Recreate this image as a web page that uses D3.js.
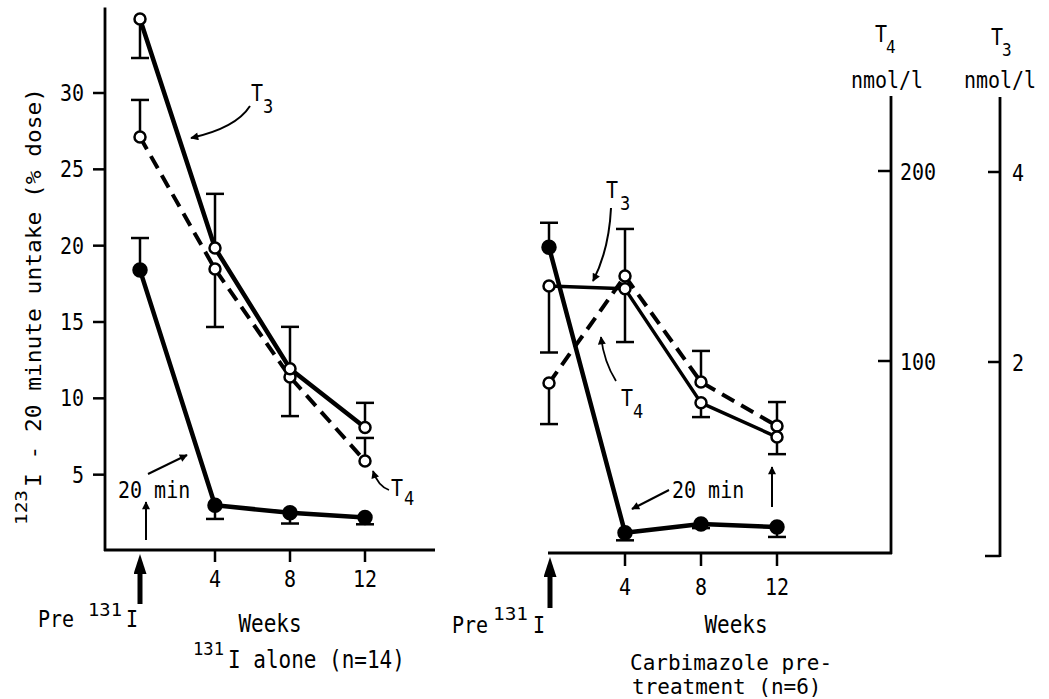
<!DOCTYPE html>
<html>
<head>
<meta charset="utf-8">
<script src="https://cdn.jsdelivr.net/npm/d3@7"></script>
<style>
  html, body { margin: 0; padding: 0; background: #fff; }
  svg { display: block; font-family: "DejaVu Sans Mono", "Liberation Mono", monospace; }
</style>
</head>
<body>
<svg id="chart" width="1049" height="699"></svg>
<script>
// ---------------- DATA ----------------
const weeks = [0, 4, 8, 12];
const weekTicks = [4, 8, 12];
const pctTicks = [5, 10, 15, 20, 25, 30];
const t4Ticks = [100, 200];
const t3Ticks = [2, 4];

// 131I alone (n=14)
const aloneUptake = [18.4, 3.0, 2.5, 2.2];          // 123I 20-min uptake, % dose
const aloneUptakeErr = [20.5, 2.1, 1.8, 1.75];      // end of SE bar
const aloneT3 = [5.61, 3.20, 1.93, 1.31];           // nmol/l
const aloneT3Err = [5.20, 3.77, 2.37, 1.57];
const aloneT4 = [217.9, 148.4, 91.6, 47.4];         // nmol/l
const aloneT4Err = [237.4, 117.9, 71.0, 59.5];

// Carbimazole pre-treatment (n=6)
const carbUptake = [19.9, 1.2, 1.77, 1.57];
const carbUptakeErr = [21.5, 0.7, 1.5, 0.92];
const carbT3 = [2.80, 2.77, 1.57, 1.21];
const carbT3Err = [2.10, 2.21, 1.42, 1.03];
const carbT4 = [88.4, 144.7, 88.9, 65.8];
const carbT4Err = [66.8, 169.5, 105.3, 78.4];

// ---------------- SETUP ----------------
const svg = d3.select("#chart");
svg.append("rect").attr("width", 1049).attr("height", 699).attr("fill", "#fff");

const xL = d3.scaleLinear().domain([0, 12]).range([140, 365]);
const xR = d3.scaleLinear().domain([0, 12]).range([549, 777]);
const yPct = d3.scaleLinear().domain([0, 30]).range([551, 93]);
const yT4 = d3.scaleLinear().domain([0, 200]).range([551, 171]);
const yT3 = d3.scaleLinear().domain([0, 4]).range([552, 172]);

const defs = svg.append("defs");
defs.append("marker").attr("id", "ah")
  .attr("viewBox", "0 0 10 10").attr("refX", 9).attr("refY", 5)
  .attr("markerWidth", 11).attr("markerHeight", 8)
  .attr("markerUnits", "userSpaceOnUse").attr("orient", "auto")
  .append("path").attr("d", "M0,0 L10,5 L0,10 Z").attr("fill", "#000");
defs.append("marker").attr("id", "ahBig")
  .attr("viewBox", "0 0 20 13").attr("refX", 1).attr("refY", 6.5)
  .attr("markerWidth", 20).attr("markerHeight", 13)
  .attr("markerUnits", "userSpaceOnUse").attr("orient", "auto")
  .append("path").attr("d", "M0,0 L20,6.5 L0,13 Z").attr("fill", "#000");

function txt(x, y, s, size, anchor, sy) {
  return svg.append("text")
    .attr("transform", `translate(${x},${y}) scale(1,${sy || 1.15})`)
    .attr("font-size", size)
    .attr("text-anchor", anchor || "start")
    .attr("fill", "#000")
    .text(s);
}
function ln(x1, y1, x2, y2, w) {
  return svg.append("line").attr("x1", x1).attr("y1", y1).attr("x2", x2).attr("y2", y2)
    .attr("stroke", "#000").attr("stroke-width", w || 2.5);
}
function arrow(d, w) {
  return svg.append("path").attr("d", d).attr("fill", "none")
    .attr("stroke", "#000").attr("stroke-width", w || 2).attr("marker-end", "url(#ah)");
}

// ---------------- AXES ----------------
// Left panel
ln(105, yPct(35.6), 105, 551, 2.8);
ln(104, 550, 435, 550, 2.8);
svg.selectAll(".lyt").data(pctTicks).join("line")
  .attr("x1", 93).attr("x2", 105).attr("y1", d => yPct(d)).attr("y2", d => yPct(d))
  .attr("stroke", "#000").attr("stroke-width", 2.5);
pctTicks.forEach(d => txt(84, yPct(d) + 8, d, 20, "end"));
svg.selectAll(".lxt").data(weekTicks).join("line")
  .attr("x1", d => xL(d)).attr("x2", d => xL(d)).attr("y1", 550).attr("y2", 562)
  .attr("stroke", "#000").attr("stroke-width", 2.5);
weekTicks.forEach(d => txt(xL(d), 587, d, 20, "middle"));

// Right panel x axis and T4 axis
ln(548, 553, 892, 553, 2.8);
ln(891, 96, 891, 554, 2.8);
svg.selectAll(".rxt").data(weekTicks).join("line")
  .attr("x1", d => xR(d)).attr("x2", d => xR(d)).attr("y1", 553).attr("y2", 566)
  .attr("stroke", "#000").attr("stroke-width", 2.5);
weekTicks.forEach(d => txt(xR(d), 595, d, 20, "middle"));
svg.selectAll(".t4t").data(t4Ticks).join("line")
  .attr("x1", 878).attr("x2", 891).attr("y1", d => yT4(d)).attr("y2", d => yT4(d))
  .attr("stroke", "#000").attr("stroke-width", 2.5);
t4Ticks.forEach(d => txt(900, yT4(d) + 9, d, 20, "start"));

// T3 axis
ln(1000, 97, 1000, 557, 2.8);
svg.selectAll(".t3t").data([0].concat(t3Ticks)).join("line")
  .attr("x1", d => d === 0 ? 985 : 988).attr("x2", 1000)
  .attr("y1", d => d === 0 ? 556 : yT3(d)).attr("y2", d => d === 0 ? 556 : yT3(d))
  .attr("stroke", "#000").attr("stroke-width", 2.5);
t3Ticks.forEach(d => txt(1012, yT3(d) + 9, d, 20, "start"));

// Axis headers
txt(875, 42, "T", 20, "start");
txt(886, 53, "4", 16, "start");
txt(887, 88, "nmol/l", 20, "middle");
txt(991, 45, "T", 20, "start");
txt(1002, 56, "3", 16, "start");
txt(1000, 88, "nmol/l", 20, "middle");

// Y axis title (rotated)
svg.append("text").attr("transform", "translate(27,525) rotate(-90)")
  .attr("font-size", 16).attr("textLength", 35).attr("lengthAdjust", "spacingAndGlyphs").text("123");
svg.append("text").attr("transform", "translate(41,487) rotate(-90)")
  .attr("font-size", 22).attr("textLength", 399).attr("lengthAdjust", "spacingAndGlyphs")
  .text("I - 20 minute untake (% dose)");

// ---------------- SERIES ----------------
function series(xs, ys, vals, errs, opts) {
  const g = svg.append("g");
  const lineGen = d3.line().x((d, i) => xs(weeks[i])).y(d => ys(d));
  g.append("path").datum(vals).attr("d", lineGen).attr("fill", "none")
    .attr("stroke", "#000").attr("stroke-width", opts.w)
    .attr("stroke-dasharray", opts.dash || null).attr("stroke-linejoin", "round");
  vals.forEach((v, i) => {
    const x = xs(weeks[i]);
    g.append("line").attr("x1", x).attr("x2", x).attr("y1", ys(v)).attr("y2", ys(errs[i]))
      .attr("stroke", "#000").attr("stroke-width", 2.5);
    g.append("line").attr("x1", x - 9).attr("x2", x + 9).attr("y1", ys(errs[i])).attr("y2", ys(errs[i]))
      .attr("stroke", "#000").attr("stroke-width", 2.5);
  });
  return g;
}
function markers(g, xs, ys, vals, filled) {
  g.selectAll("circle.m").data(vals).join("circle")
    .attr("cx", (d, i) => xs(weeks[i])).attr("cy", d => ys(d))
    .attr("r", filled ? 6.5 : 5.5)
    .attr("fill", filled ? "#000" : "#fff").attr("stroke", "#000").attr("stroke-width", 2.5);
}

const gA4 = series(xL, yT4, aloneT4, aloneT4Err, { w: 4, dash: "14,8" });
const gA3 = series(xL, yT3, aloneT3, aloneT3Err, { w: 4.5 });
const gAU = series(xL, yPct, aloneUptake, aloneUptakeErr, { w: 4.5 });
const gC4 = series(xR, yT4, carbT4, carbT4Err, { w: 4, dash: "14,8" });
const gC3 = series(xR, yT3, carbT3, carbT3Err, { w: 3.5 });
const gCU = series(xR, yPct, carbUptake, carbUptakeErr, { w: 4.5 });
markers(gA4, xL, yT4, aloneT4, false);
markers(gA3, xL, yT3, aloneT3, false);
markers(gAU, xL, yPct, aloneUptake, true);
markers(gC4, xR, yT4, carbT4, false);
markers(gC3, xR, yT3, carbT3, false);
markers(gCU, xR, yPct, carbUptake, true);

// ---------------- ANNOTATIONS ----------------
// Left panel
txt(251, 101, "T", 20, "start");
txt(263, 113, "3", 17, "start");
arrow("M250,106 Q236,128 191,138");
txt(391, 496, "T", 20, "start");
txt(404, 505, "4", 17, "start");
arrow("M389,490 Q378,486 373,471", 1.8);
txt(118, 498, "20 min", 20, "start");
arrow("M148,474 L187,455");
arrow("M146,540 L146,502");
svg.append("line").attr("x1", 140).attr("y1", 604).attr("x2", 140).attr("y2", 573)
  .attr("stroke", "#000").attr("stroke-width", 5).attr("marker-end", "url(#ahBig)");
txt(38, 627, "Pre", 20, "start");
svg.append("text").attr("x", 88).attr("y", 616).attr("font-size", 17)
  .attr("textLength", 34).attr("lengthAdjust", "spacingAndGlyphs").text("131");
txt(126, 627, "I", 20, "start");
txt(270, 632, "Weeks", 21, "middle");
svg.append("text").attr("x", 193).attr("y", 655).attr("font-size", 17)
  .attr("textLength", 31).attr("lengthAdjust", "spacingAndGlyphs").text("131");
txt(228, 668, "I alone (n=14)", 21, "start");

// Right panel
txt(606, 198, "T", 20, "start");
txt(620, 210, "3", 17, "start");
arrow("M611,208 Q609,250 593,281");
txt(621, 406, "T", 20, "start");
txt(633, 418, "4", 17, "start");
arrow("M616,381 Q604,362 601,337", 1.8);
txt(672, 498, "20 min", 20, "start");
arrow("M669,490 L632,509");
arrow("M772,507 L772,467");
svg.append("line").attr("x1", 550).attr("y1", 608).attr("x2", 550).attr("y2", 576)
  .attr("stroke", "#000").attr("stroke-width", 5).attr("marker-end", "url(#ahBig)");
txt(452, 633, "Pre", 20, "start");
svg.append("text").attr("x", 493).attr("y", 620).attr("font-size", 17)
  .attr("textLength", 35).attr("lengthAdjust", "spacingAndGlyphs").text("131");
txt(533, 633, "I", 20, "start");
txt(736, 633, "Weeks", 21, "middle");
txt(630, 670, "Carbimazole pre-", 21, "start", 1.05);
txt(632, 694, "treatment (n=6)", 21, "start", 1.05);
</script>
</body>
</html>
